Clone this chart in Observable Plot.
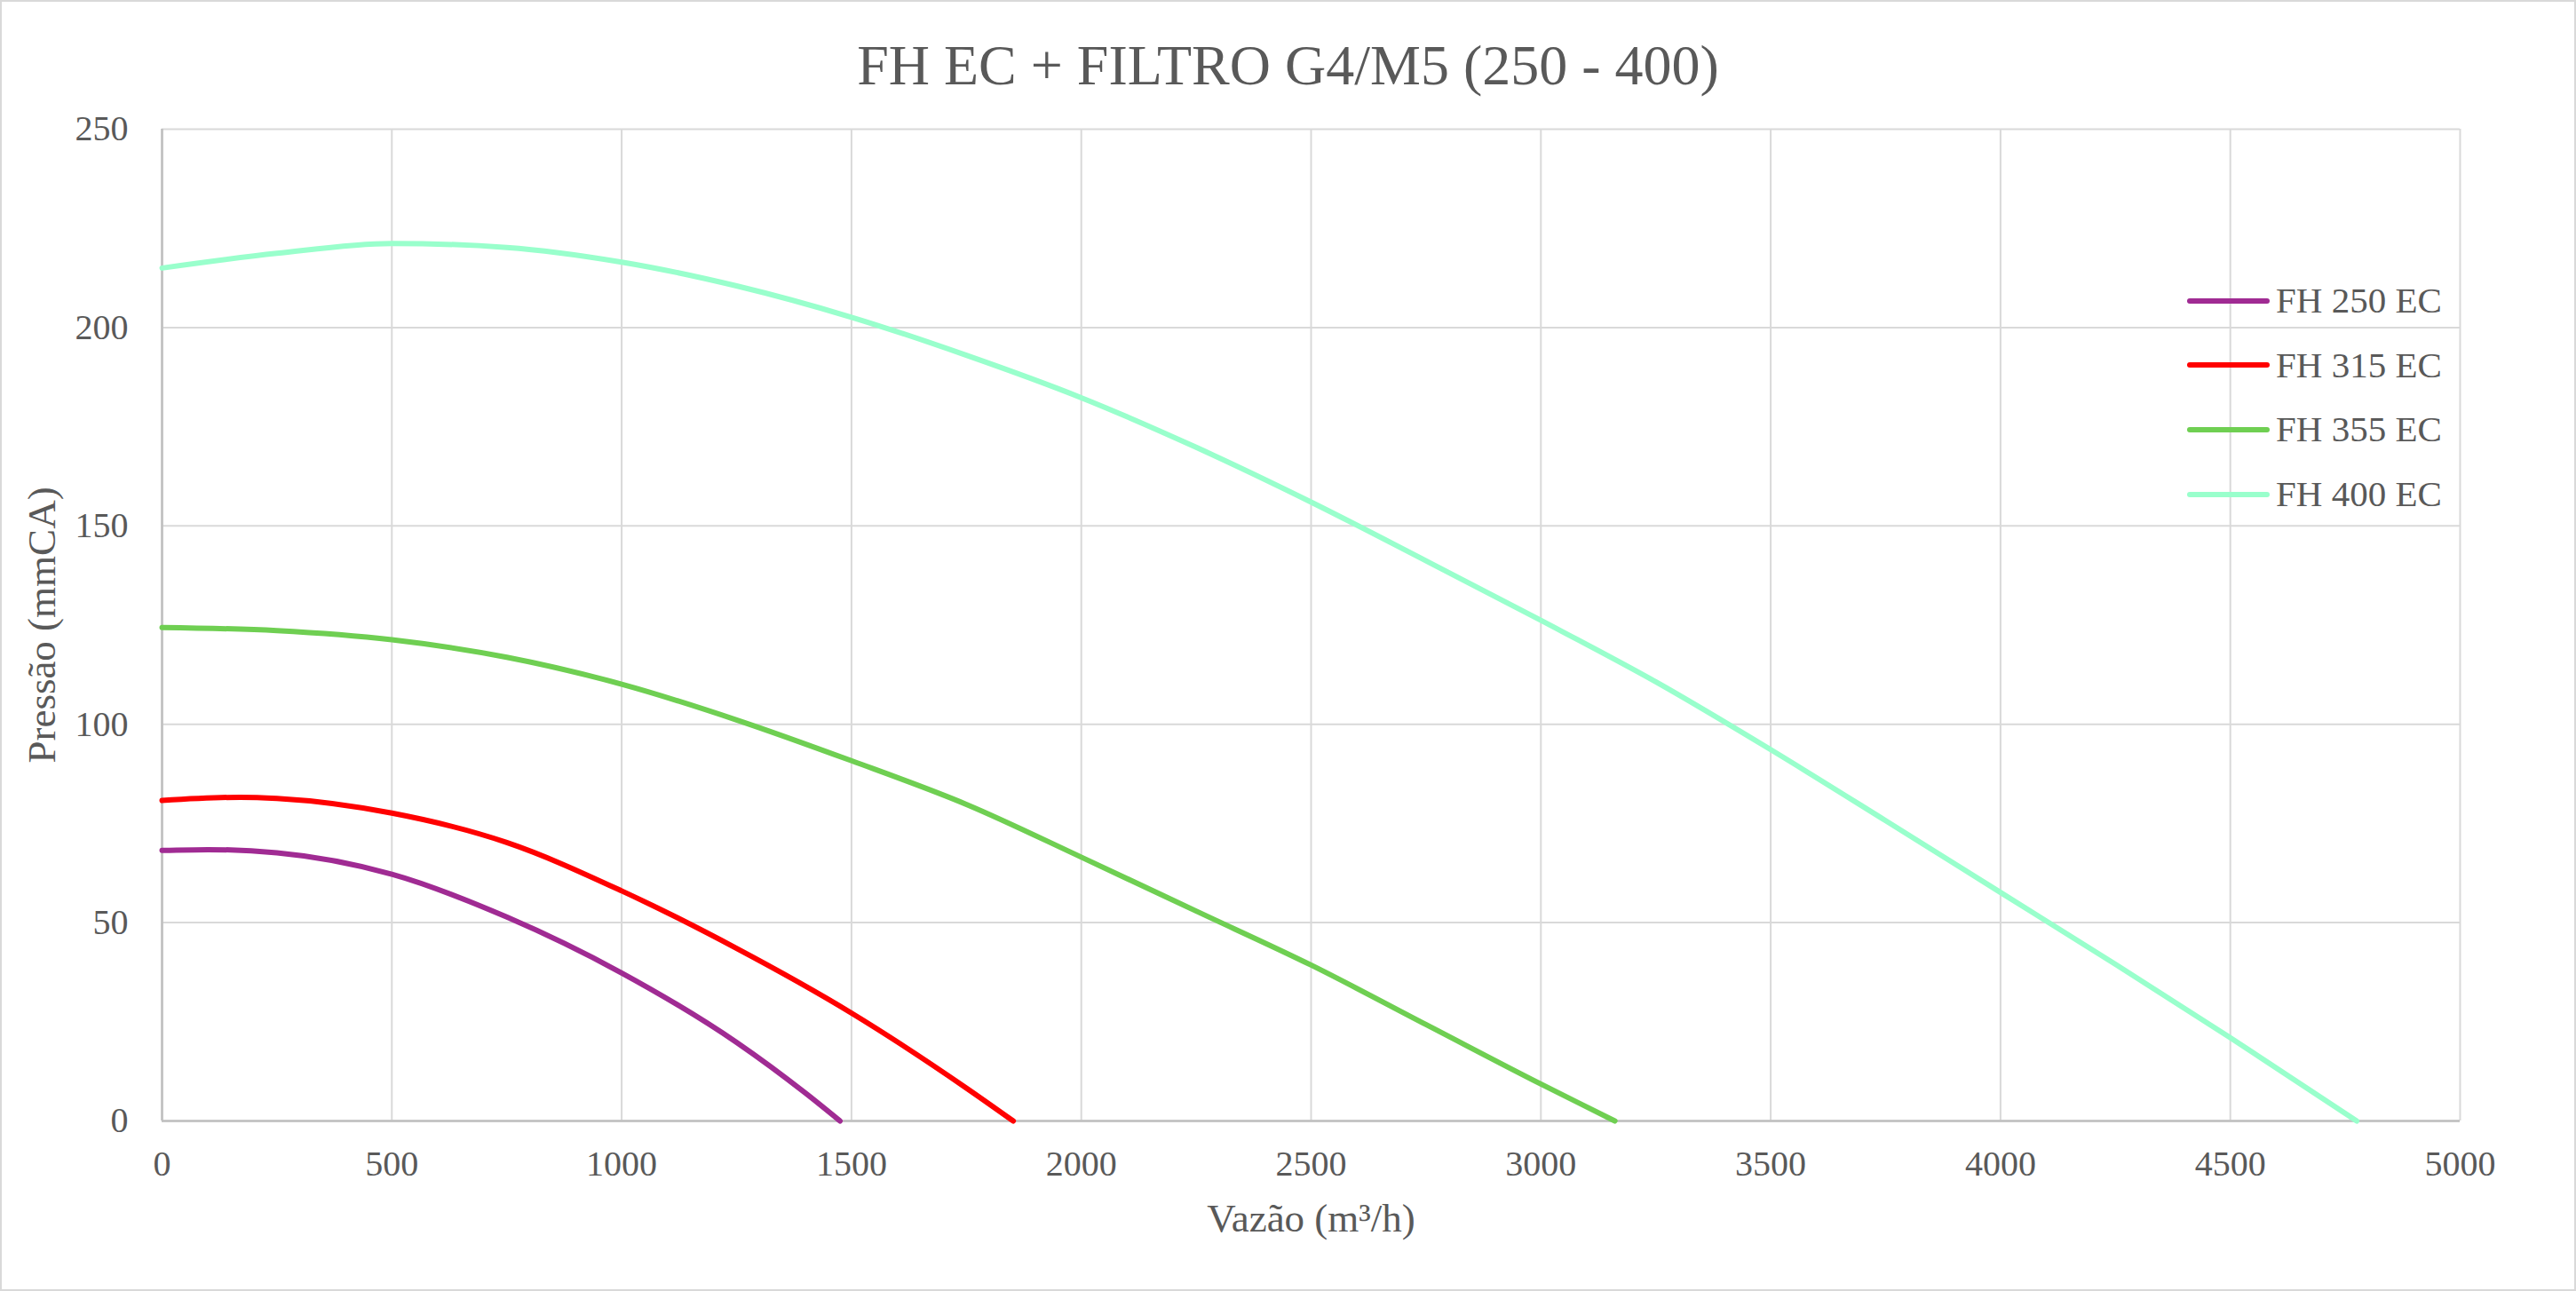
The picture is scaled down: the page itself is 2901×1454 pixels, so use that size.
<!DOCTYPE html>
<html>
<head>
<meta charset="utf-8">
<script src="https://cdn.jsdelivr.net/npm/d3@7"></script>
<script src="https://cdn.jsdelivr.net/npm/@observablehq/plot@0.6"></script>
<style>
html, body { margin: 0; padding: 0; background: #fff; }
#chart { position: relative; width: 2901px; height: 1454px; background: #fff; font-family: "Liberation Serif", "Times New Roman", serif; color: #595959; overflow: hidden; }
#frame { position: absolute; left: 0; top: 0; width: 2901px; height: 1454px; box-sizing: border-box; border: 2px solid #d9d9d9; pointer-events: none; }
#title { height: 105px; box-sizing: border-box; padding-top: 44px; font-size: 64px; line-height: 60px; text-align: center; white-space: nowrap; }
#legend { position: absolute; left: 2463px; top: 302px; }
.row { height: 72.7px; line-height: 72.7px; font-size: 41px; white-space: nowrap; }
.row svg { vertical-align: middle; margin-right: 7px; position: relative; top: -4px; }
</style>
</head>
<body>
<div id="chart">
  <div id="title"></div>
  <div id="plot"></div>
  <div id="legend"></div>
  <div id="frame"></div>
</div>
<script>
// ---- Data ----
const chartTitle = "FH EC + FILTRO G4/M5 (250 - 400)";
const xTitle = "Vazão (m³/h)";
const yTitle = "Pressão (mmCA)";
const xTicks = [0, 500, 1000, 1500, 2000, 2500, 3000, 3500, 4000, 4500, 5000];
const yTicks = [0, 50, 100, 150, 200, 250];

const seriesNames = ["FH 250 EC", "FH 315 EC", "FH 355 EC", "FH 400 EC"];
const seriesColors = ["#A02B93", "#FF0000", "#6FCF52", "#99FFCC"];

const flow250 = [0, 100, 250, 500, 750, 1000, 1250, 1400, 1475];
const press250 = [68.2, 68.4, 67.6, 62.2, 51.4, 37.3, 19.8, 7.0, 0];

const flow315 = [0, 170, 250, 500, 750, 1000, 1250, 1500, 1750, 1852];
const press315 = [80.8, 81.6, 81.3, 77.6, 70.2, 58.0, 43.5, 27.2, 8.3, 0];

const flow355 = [0, 250, 500, 750, 1000, 1250, 1500, 1750, 2000, 2250, 2500, 2750, 3000, 3161];
const press355 = [124.4, 123.6, 121.3, 116.9, 110.1, 101.1, 90.8, 79.8, 66.5, 52.9, 39.3, 24.3, 9.3, 0];

const flow400 = [0, 250, 500, 750, 1000, 1250, 1500, 1750, 2000, 2250, 2500, 2750, 3000, 3250, 3500, 3750, 4000, 4250, 4500, 4775];
const press400 = [215, 218.7, 221.2, 220.2, 216.5, 210.5, 202.6, 193, 182.3, 169.8, 156, 141.2, 126.2, 110.7, 93.6, 75.7, 57.6, 39.5, 21.0, 0];

// ---- Build table ----
const seriesFlows = [flow250, flow315, flow355, flow400];
const seriesPress = [press250, press315, press355, press400];
const rows = [];
seriesNames.forEach((name, s) => {
  seriesFlows[s].forEach((q, i) => rows.push({name, q, p: seriesPress[s][i]}));
});

document.getElementById("title").textContent = chartTitle;

const gridStyle = {stroke: "#d9d9d9", strokeOpacity: 1, strokeWidth: 2};
const axisStyle = {stroke: "#bfbfbf", strokeOpacity: 1, strokeWidth: 2.5};

const plot = Plot.plot({
  width: 2901,
  height: 1349,
  marginTop: 40,
  marginBottom: 192,
  marginLeft: 182,
  marginRight: 131,
  style: {fontFamily: '"Liberation Serif", "Times New Roman", serif', fontSize: "40px", color: "#595959", background: "transparent", overflow: "visible"},
  x: {domain: [0, 5000]},
  y: {domain: [0, 250]},
  color: {domain: seriesNames, range: seriesColors},
  marks: [
    Plot.gridX(xTicks, gridStyle),
    Plot.gridY(yTicks, gridStyle),
    Plot.ruleX([0], axisStyle),
    Plot.ruleY([0], axisStyle),
    Plot.axisX(xTicks, {tickSize: 0, tickPadding: 33, label: null, tickFormat: d3.format("d"), fontSize: 40, fill: "#595959"}),
    Plot.axisY(yTicks, {tickSize: 0, tickPadding: 38, label: null, tickFormat: d3.format("d"), fontSize: 40, fill: "#595959"}),
    Plot.line(rows, {x: "q", y: "p", z: "name", stroke: "name", strokeWidth: 6, curve: "monotone-x", strokeLinecap: "round", strokeLinejoin: "round"}),
    Plot.text([xTitle], {text: d => d, frameAnchor: "bottom", lineAnchor: "middle", textAnchor: "middle", dy: 110, fontSize: 45, fill: "#595959"}),
    Plot.text([yTitle], {text: d => d, frameAnchor: "left", lineAnchor: "middle", textAnchor: "middle", rotate: -90, dx: -135, fontSize: 45, fill: "#595959"})
  ]
});
document.getElementById("plot").appendChild(plot);

// ---- Legend ----
const legend = d3.select("#legend");
seriesNames.forEach((name, i) => {
  const row = legend.append("div").attr("class", "row");
  const sw = row.append("svg").attr("width", 93).attr("height", 12);
  sw.append("line").attr("x1", 3).attr("x2", 90).attr("y1", 6).attr("y2", 6)
    .attr("stroke", seriesColors[i]).attr("stroke-width", 6).attr("stroke-linecap", "round");
  row.append("span").text(name);
});
</script>
</body>
</html>
